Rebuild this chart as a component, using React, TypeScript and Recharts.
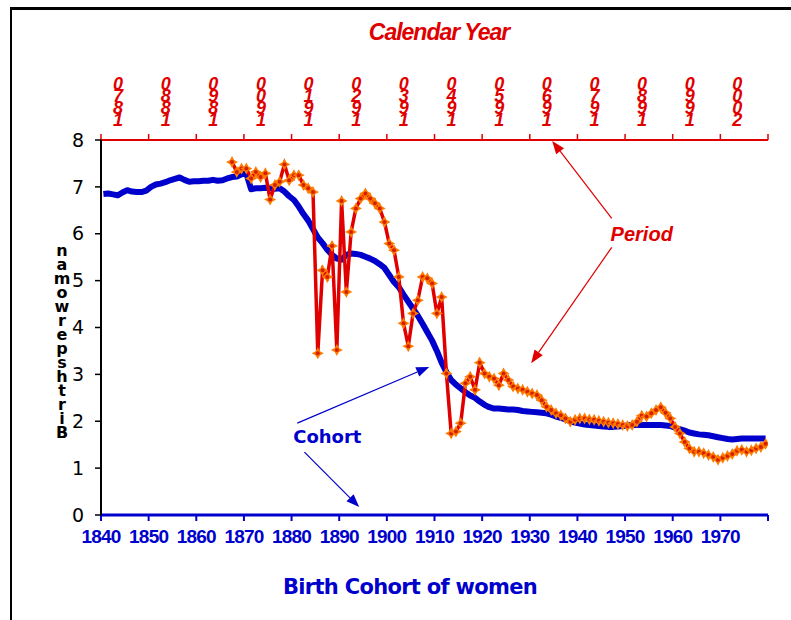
import React from 'react';
import { ComposedChart, Line, XAxis, YAxis, ReferenceLine, ReferenceDot } from 'recharts';

// ---------- data ----------
const COHORT_FIRST_YEAR = 1840;
const cohortBirthsPerWoman = [
  6.85, 6.86, 6.84, 6.82, 6.88, 6.93, 6.9, 6.89, 6.89, 6.92,
  7.0, 7.05, 7.07, 7.1, 7.14, 7.17, 7.2, 7.15, 7.11, 7.12,
  7.12, 7.13, 7.13, 7.15, 7.13, 7.14, 7.18, 7.21, 7.22, 7.27,
  7.29, 6.95, 6.97, 6.97, 6.98, 6.97, 6.96, 6.97, 6.9, 6.8,
  6.72, 6.58, 6.42, 6.28, 6.1, 5.92, 5.8, 5.66, 5.55, 5.47,
  5.45, 5.55, 5.58, 5.57, 5.55, 5.51, 5.47, 5.42, 5.35, 5.27,
  5.12, 4.97, 4.86, 4.7, 4.55, 4.4, 4.25, 4.08, 3.9, 3.72,
  3.5, 3.25, 3.05, 2.88, 2.78, 2.7, 2.62, 2.55, 2.5, 2.42,
  2.35, 2.3, 2.27, 2.27, 2.26, 2.25, 2.25, 2.24, 2.22, 2.21,
  2.2, 2.19, 2.18, 2.17, 2.14, 2.1, 2.07, 2.04, 2.0, 1.97,
  1.95, 1.93, 1.92, 1.91, 1.9, 1.89, 1.88, 1.88, 1.89, 1.9,
  1.91, 1.92, 1.92, 1.92, 1.92, 1.92, 1.92, 1.92, 1.91, 1.9,
  1.86, 1.83, 1.8, 1.76, 1.74, 1.72, 1.71, 1.7, 1.68, 1.66,
  1.64, 1.62, 1.61, 1.62, 1.63, 1.63, 1.63, 1.63, 1.63, 1.63,
];

const PERIOD_FIRST_YEAR = 1897;
const periodBirthsPerWoman = [
  7.53, 7.32, 7.39, 7.39, 7.18, 7.32, 7.21, 7.29, 6.73, 7.04,
  7.11, 7.48, 7.14, 7.25, 7.25, 7.04, 6.97, 6.89, 3.45, 5.22,
  5.08, 5.74, 3.52, 6.7, 4.76, 6.04, 6.54, 6.75, 6.86, 6.75,
  6.65, 6.54, 6.25, 5.79, 5.65, 5.08, 4.09, 3.6, 4.3, 4.58,
  5.08, 5.05, 4.94, 4.3, 4.65, 3.02, 1.74, 1.78, 1.96, 2.81,
  2.95, 2.67, 3.25, 3.02, 2.95, 2.91, 2.77, 3.02, 2.88, 2.74,
  2.7, 2.67, 2.63, 2.59, 2.56, 2.45, 2.31, 2.24, 2.17, 2.13,
  2.06, 1.99, 2.03, 2.06, 2.06, 2.04, 2.03, 2.01, 1.99, 1.97,
  1.96, 1.94, 1.92, 1.9, 1.92, 1.99, 2.12, 2.1, 2.17, 2.24,
  2.3, 2.18, 2.06, 1.88, 1.74, 1.56, 1.42, 1.35, 1.35, 1.32,
  1.28, 1.24, 1.18, 1.22, 1.26, 1.3, 1.37, 1.39, 1.35, 1.38,
  1.42, 1.45, 1.52,
];

const cohortTickLabels = [1840, 1850, 1860, 1870, 1880, 1890, 1900, 1910, 1920, 1930, 1940, 1950, 1960, 1970];
const calendarTickLabels = [1870, 1880, 1890, 1900, 1910, 1920, 1930, 1940, 1950, 1960, 1970, 1980, 1990, 2000];
const valueTicks = [0, 1, 2, 3, 4, 5, 6, 7, 8];
const COHORT_DOMAIN: [number, number] = [1840, 1980];
const CALENDAR_DOMAIN: [number, number] = [1870, 2010];
const CATEGORY_CENTER = 0.5;

const yAxisTitle = 'Birthsperwoman';
const topTitle = 'Calendar Year';
const bottomTitle = 'Birth Cohort of women';

const cohortData = cohortBirthsPerWoman.map((v, i) => ({ year: COHORT_FIRST_YEAR + i + CATEGORY_CENTER, cohort: v }));
const periodData = periodBirthsPerWoman.map((v, i) => ({ year: PERIOD_FIRST_YEAR + i + CATEGORY_CENTER, period: v }));

// annotation anchors (cohort year, births per woman)
const periodArrows = [
  [{ x: 1947.2, y: 6.33 }, { x: 1934.7, y: 7.98 }],
  [{ x: 1947.2, y: 5.71 }, { x: 1930.3, y: 3.24 }],
];
const cohortArrows = [
  [{ x: 1881.2, y: 1.96 }, { x: 1908.9, y: 3.16 }],
  [{ x: 1882.7, y: 1.34 }, { x: 1894.2, y: 0.17 }],
];
const periodLabelAt = { x: 1953.5, y: 5.99 };
const cohortLabelAt = { x: 1887.5, y: 1.68 };

// ---------- styles ----------
const BLUE = '#0000CC';
const RED = '#E00000';
const ORANGE = '#FF7A00';
const W = 791;
const H = 620;

const StarDot = (props: any) => {
  const { cx, cy } = props;
  if (cx == null || cy == null) return null;
  const pts: string[] = [];
  for (let k = 0; k < 8; k++) {
    const r = k % 2 === 0 ? 6 : 3;
    const a = (Math.PI / 4) * k - Math.PI / 2;
    pts.push(`${cx + r * Math.cos(a)},${cy + r * Math.sin(a)}`);
  }
  return (
    <g>
      <polygon points={pts.join(' ')} fill={ORANGE} />
      <circle cx={cx} cy={cy} r={2} fill="#D42000" />
    </g>
  );
};

const makeArrow = (color: string) => (p: any) => {
  const { x1, y1, x2, y2 } = p;
  if ([x1, y1, x2, y2].some((v) => v == null || isNaN(v))) return <g />;
  const ang = Math.atan2(y2 - y1, x2 - x1);
  const L = 13;
  const Wd = 5;
  const bx = x2 - L * Math.cos(ang);
  const by = y2 - L * Math.sin(ang);
  const lx = bx + Wd * Math.sin(ang);
  const ly = by - Wd * Math.cos(ang);
  const rx = bx - Wd * Math.sin(ang);
  const ry = by + Wd * Math.cos(ang);
  return (
    <g>
      <line x1={x1} y1={y1} x2={bx} y2={by} stroke={color} strokeWidth={1.2} />
      <polygon points={`${x2},${y2} ${lx},${ly} ${rx},${ry}`} fill={color} />
    </g>
  );
};

const TopTick = (props: any) => {
  const { x, y, payload } = props;
  if (!calendarTickLabels.includes(payload.value)) return null;
  const chars = String(payload.value).split('').reverse();
  return (
    <g>
      {chars.map((c, k) => (
        <text
          key={k}
          x={x + 17}
          y={y - 42 + k * 12}
          textAnchor="middle"
          fill={RED}
          fontSize={18}
          fontStyle="italic"
          fontWeight="bold"
          fontFamily="Liberation Sans, Arial, sans-serif"
        >
          {c}
        </text>
      ))}
    </g>
  );
};

const BottomTick = (props: any) => {
  const { x, y, payload } = props;
  if (!cohortTickLabels.includes(payload.value)) return null;
  return (
    <text
      x={x}
      y={y}
      dy="0.71em"
      textAnchor="middle"
      fill={BLUE}
      fontSize={19}
      fontWeight="bold"
      letterSpacing={-0.8}
      fontFamily="Liberation Sans, Arial, sans-serif"
    >
      {payload.value}
    </text>
  );
};

const YTitle = (props: any) => {
  const { viewBox } = props;
  const cx = viewBox.x + 21;
  const chars = yAxisTitle.split('').reverse();
  const top = viewBox.y + viewBox.height / 2 - 72;
  return (
    <g>
      {chars.map((c, k) => (
        <text
          key={k}
          x={cx}
          y={top + k * 14}
          textAnchor="middle"
          fill="#000"
          fontSize={16}
          fontWeight="bold"
          fontFamily="DejaVu Sans, sans-serif"
        >
          {c}
        </text>
      ))}
    </g>
  );
};

const TextMark = (text: string, color: string, italic: boolean, size: number) => (p: any) => {
  const { cx, cy } = p;
  return (
    <text
      x={cx}
      y={cy}
      dy="0.35em"
      textAnchor="middle"
      fill={color}
      fontSize={size}
      fontWeight="bold"
      fontStyle={italic ? 'italic' : 'normal'}
      fontFamily={italic ? 'Liberation Sans, Arial, sans-serif' : 'DejaVu Sans, sans-serif'}
    >
      {text}
    </text>
  );
};

export default function App() {
  return (
    <div style={{ position: 'absolute', left: 0, top: 0, width: W, height: H, overflow: 'hidden', background: '#fff' }}>
      <div
        style={{
          position: 'absolute',
          left: 10,
          top: 7,
          width: 900,
          height: 700,
          borderLeft: '2px solid #000',
          borderTop: '3px solid #000',
        }}
      />
      <div
        style={{
          position: 'absolute',
          left: 439,
          top: 32,
          transform: 'translate(-50%, -50%)',
          color: RED,
          fontFamily: 'Liberation Sans, Arial, sans-serif',
          fontWeight: 'bold',
          fontStyle: 'italic',
          fontSize: 23,
          letterSpacing: -1,
          whiteSpace: 'nowrap',
        }}
      >
        {topTitle}
      </div>
      <div
        style={{
          position: 'absolute',
          left: 410,
          top: 587,
          transform: 'translate(-50%, -50%)',
          color: BLUE,
          fontFamily: 'DejaVu Sans, sans-serif',
          fontWeight: 'bold',
          fontSize: 21,
          letterSpacing: -0.7,
          whiteSpace: 'nowrap',
        }}
      >
        {bottomTitle}
      </div>
      <div style={{ position: 'absolute', left: 0, top: 0 }}>
        <ComposedChart width={W} height={H} margin={{ top: 70, right: 23, bottom: 65, left: 41 }}>
          <XAxis
            xAxisId="top"
            orientation="top"
            type="number"
            dataKey="year"
            domain={CALENDAR_DOMAIN}
            ticks={[...calendarTickLabels, CALENDAR_DOMAIN[1]]}
            interval={0}
            height={70}
            allowDataOverflow
            axisLine={{ stroke: RED, strokeWidth: 2 }}
            tickLine={{ stroke: RED, strokeWidth: 1.5 }}
            tickSize={6}
            tick={<TopTick />}
          />
          <XAxis
            xAxisId="bottom"
            orientation="bottom"
            type="number"
            dataKey="year"
            domain={COHORT_DOMAIN}
            ticks={[...cohortTickLabels, COHORT_DOMAIN[1]]}
            interval={0}
            height={40}
            allowDataOverflow
            axisLine={{ stroke: BLUE, strokeWidth: 3 }}
            tickLine={{ stroke: BLUE, strokeWidth: 2 }}
            tickSize={6}
            tickMargin={9}
            tick={<BottomTick />}
          />
          <YAxis
            yAxisId="left"
            type="number"
            domain={[0, 8]}
            ticks={valueTicks}
            interval={0}
            width={60}
            axisLine={{ stroke: '#000', strokeWidth: 2 }}
            tickLine={{ stroke: '#000', strokeWidth: 1.5 }}
            tickSize={6}
            tickMargin={11}
            tick={{ fill: '#000', fontSize: 19, fontFamily: 'DejaVu Sans, sans-serif' }}
            label={<YTitle />}
          />
          <YAxis
            yAxisId="right"
            orientation="right"
            type="number"
            domain={[0, 8]}
            width={0}
            tick={false}
            tickLine={false}
            axisLine={{ stroke: '#000', strokeWidth: 2 }}
          />
          <Line
            xAxisId="bottom"
            yAxisId="left"
            data={cohortData}
            dataKey="cohort"
            type="linear"
            stroke={BLUE}
            strokeWidth={6}
            strokeLinejoin="round"
            dot={false}
            activeDot={false}
            isAnimationActive={false}
          />
          <Line
            xAxisId="top"
            yAxisId="left"
            data={periodData}
            dataKey="period"
            type="linear"
            stroke={RED}
            strokeWidth={3.5}
            dot={<StarDot />}
            activeDot={false}
            isAnimationActive={false}
          />
          {periodArrows.map((seg, i) => (
            <ReferenceLine
              key={'pa' + i}
              xAxisId="bottom"
              yAxisId="left"
              segment={seg}
              ifOverflow="visible"
              shape={makeArrow(RED)}
            />
          ))}
          {cohortArrows.map((seg, i) => (
            <ReferenceLine
              key={'ca' + i}
              xAxisId="bottom"
              yAxisId="left"
              segment={seg}
              ifOverflow="visible"
              shape={makeArrow(BLUE)}
            />
          ))}
          <ReferenceDot
            xAxisId="bottom"
            yAxisId="left"
            x={periodLabelAt.x}
            y={periodLabelAt.y}
            ifOverflow="visible"
            shape={TextMark('Period', RED, true, 20)}
          />
          <ReferenceDot
            xAxisId="bottom"
            yAxisId="left"
            x={cohortLabelAt.x}
            y={cohortLabelAt.y}
            ifOverflow="visible"
            shape={TextMark('Cohort', BLUE, false, 18)}
          />
        </ComposedChart>
      </div>
    </div>
  );
}
